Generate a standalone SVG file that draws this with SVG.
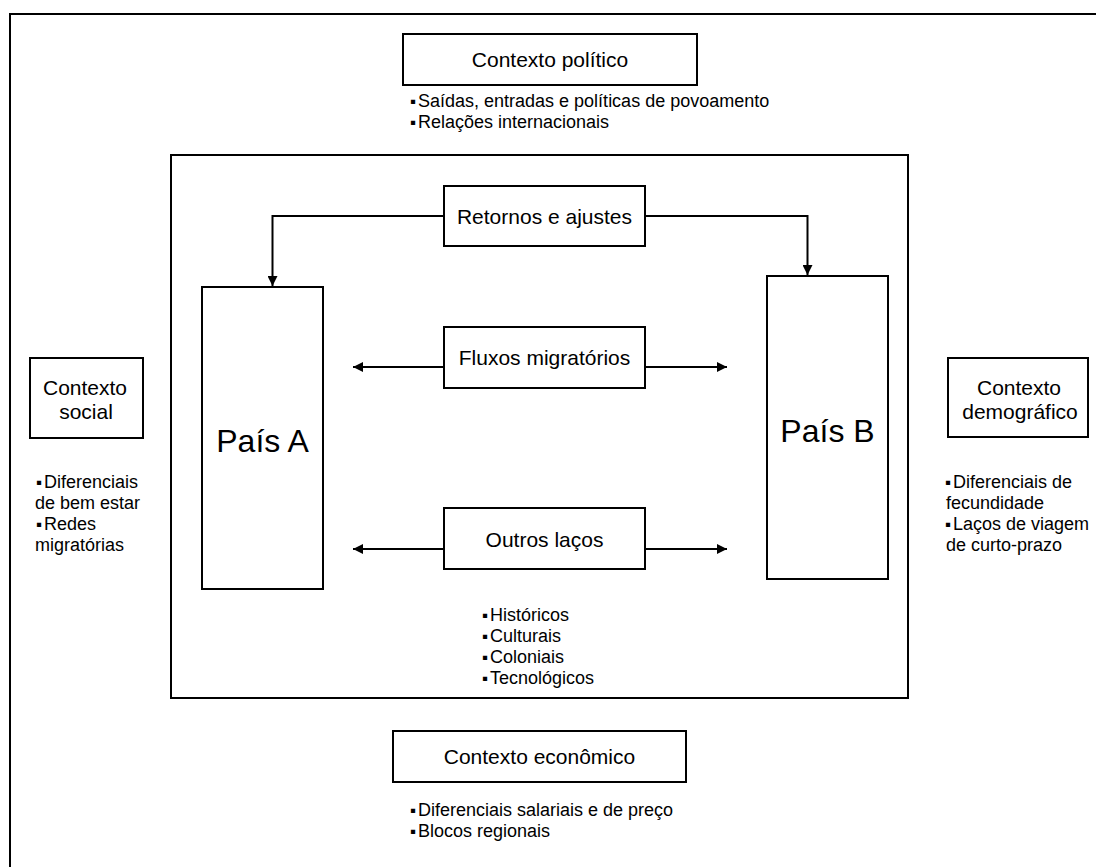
<svg xmlns="http://www.w3.org/2000/svg" width="1096" height="867" viewBox="0 0 1096 867">
<style>
  .box { fill: #fff; stroke: #000; stroke-width: 2; }
  .frame { fill: none; stroke: #000; stroke-width: 2; }
  .conn { fill: none; stroke: #000; stroke-width: 2; }
  .lbl { font-family: "Liberation Sans", Arial, sans-serif; font-size: 21px; fill: #000; text-anchor: middle; }
  .big { font-family: "Liberation Sans", Arial, sans-serif; font-size: 32px; fill: #000; text-anchor: middle; }
  .bul { font-family: "Liberation Sans", Arial, sans-serif; font-size: 18px; fill: #000; }
  .sq { font-size: 17px; }
</style>
<defs>
  <marker id="arrow" viewBox="0 0 10 10" refX="10" refY="5" markerUnits="userSpaceOnUse" markerWidth="12" markerHeight="10" orient="auto">
    <path d="M0,0 L10,5 L0,10 Z" fill="#000"/>
  </marker>
</defs>
<rect width="1096" height="867" fill="#fff"/>
<path class="frame" d="M10,867 V14 H1096"/>
<rect id="inner-frame" class="frame" x="171" y="155" width="737" height="543"/>

<g id="connectors">
  <path class="conn" d="M444,216 H272.5 V286" marker-end="url(#arrow)"/>
  <path class="conn" d="M645,216 H807.5 V275" marker-end="url(#arrow)"/>
  <path class="conn" d="M444,367 H353" marker-end="url(#arrow)"/>
  <path class="conn" d="M645,367 H727" marker-end="url(#arrow)"/>
  <path class="conn" d="M444,549 H353" marker-end="url(#arrow)"/>
  <path class="conn" d="M645,549 H727" marker-end="url(#arrow)"/>
</g>

<g id="contexto-politico">
  <rect class="box" x="403" y="34" width="294" height="51"/>
  <text class="lbl" x="550" y="67">Contexto político</text>
  <text class="bul" y="107"><tspan class="sq" x="410">▪</tspan><tspan x="418">Saídas, entradas e políticas de povoamento</tspan></text>
  <text class="bul" y="128"><tspan class="sq" x="410">▪</tspan><tspan x="418">Relações internacionais</tspan></text>
</g>

<g id="retornos">
  <rect class="box" x="444" y="186" width="201" height="60"/>
  <text class="lbl" x="544.5" y="223.5">Retornos e ajustes</text>
</g>

<g id="pais-a">
  <rect class="box" x="202" y="287" width="121" height="302"/>
  <text class="big" x="262.5" y="452">País A</text>
</g>

<g id="pais-b">
  <rect class="box" x="767" y="276" width="121" height="303"/>
  <text class="big" x="827.5" y="442">País B</text>
</g>

<g id="fluxos">
  <rect class="box" x="444" y="327" width="201" height="61"/>
  <text class="lbl" x="544.5" y="365">Fluxos migratórios</text>
</g>

<g id="outros">
  <rect class="box" x="444" y="508" width="201" height="61"/>
  <text class="lbl" x="544.5" y="547">Outros laços</text>
  <text class="bul" y="621"><tspan class="sq" x="482">▪</tspan><tspan x="490">Históricos</tspan></text>
  <text class="bul" y="642"><tspan class="sq" x="482">▪</tspan><tspan x="490">Culturais</tspan></text>
  <text class="bul" y="663"><tspan class="sq" x="482">▪</tspan><tspan x="490">Coloniais</tspan></text>
  <text class="bul" y="684"><tspan class="sq" x="482">▪</tspan><tspan x="490">Tecnológicos</tspan></text>
</g>

<g id="contexto-social">
  <rect class="box" x="30" y="358" width="113" height="80"/>
  <text class="lbl" x="85" y="395">Contexto</text>
  <text class="lbl" x="86" y="419">social</text>
  <text class="bul" y="488"><tspan class="sq" x="36">▪</tspan><tspan x="44">Diferenciais</tspan></text>
  <text class="bul" x="35" y="509">de bem estar</text>
  <text class="bul" y="530"><tspan class="sq" x="36">▪</tspan><tspan x="44">Redes</tspan></text>
  <text class="bul" x="35" y="551">migratórias</text>
</g>

<g id="contexto-demografico">
  <rect class="box" x="948" y="358" width="140" height="79"/>
  <text class="lbl" x="1019" y="395">Contexto</text>
  <text class="lbl" x="1020" y="419">demográfico</text>
  <text class="bul" y="488"><tspan class="sq" x="945">▪</tspan><tspan x="953">Diferenciais de</tspan></text>
  <text class="bul" x="946" y="509">fecundidade</text>
  <text class="bul" y="530"><tspan class="sq" x="945">▪</tspan><tspan x="953">Laços de viagem</tspan></text>
  <text class="bul" x="946" y="551">de curto-prazo</text>
</g>

<g id="contexto-economico">
  <rect class="box" x="393" y="731" width="293" height="51"/>
  <text class="lbl" x="539.5" y="764">Contexto econômico</text>
  <text class="bul" y="816"><tspan class="sq" x="410">▪</tspan><tspan x="418">Diferenciais salariais e de preço</tspan></text>
  <text class="bul" y="837"><tspan class="sq" x="410">▪</tspan><tspan x="418">Blocos regionais</tspan></text>
</g>
</svg>
